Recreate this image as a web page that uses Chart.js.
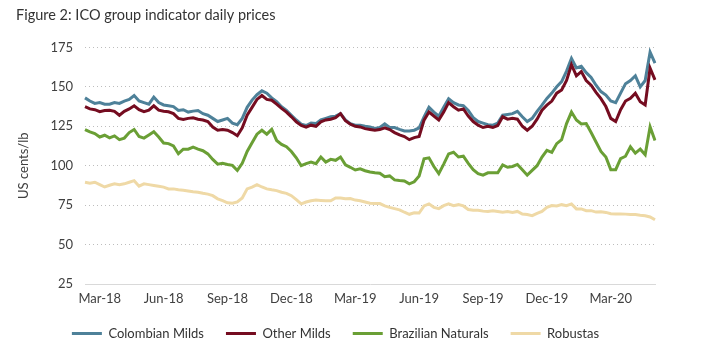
<!DOCTYPE html>
<html><head><meta charset="utf-8">
<script src="https://cdn.jsdelivr.net/npm/chart.js@4"></script>
<style>html,body{margin:0;padding:0;background:#fff}#wrap{width:720px;height:360px}</style>
</head><body><div id="wrap"><canvas id="c" width="720" height="360"></canvas></div>
<script>
const chartTitle = 'Figure 2: ICO group indicator daily prices';
const yAxisTitle = 'US cents/lb';
const seriesNames = ['Colombian Milds', 'Other Milds', 'Brazilian Naturals', 'Robustas'];
const firstWeek = [2018, 1, 8]; // weekly observations from 8 Feb 2018
const tickLabels = ['Mar-18','Jun-18','Sep-18','Dec-18','Mar-19','Jun-19','Sep-19','Dec-19','Mar-20'];
const yTicks = [25, 50, 75, 100, 125, 150, 175];

const colombianMilds = [143,141,139.5,140,139,139,140,139.5,141,142,
144.5,141,140,139,143.5,140,138.5,138,137.5,135,
135.5,134,134.6,135,133,132,130,128,129,130,
127,126,130,137,141.6,145,147.5,146,143,140.6,
137.4,135,132,129,126.3,125.5,127,126.7,129,130,
131,131.4,133,129,126.7,125.7,125.7,125,124.5,123.6,
124.2,126.5,124.2,124.2,123,122,122,122.5,124,131,
137,134,131.4,137,142.5,140,138.5,138,135,130.5,
128,127,126,125.7,127,132,132.5,133,134.5,131,
128,130,134.5,138.4,142.7,146,150,153.3,160,168,
162,163,159,156,151,147,144.8,141,140,146,
152,154,157,150,154,172,165];
const otherMilds = [137.4,136,135.5,134.2,135,135.2,134.5,132,134.5,136,
138,135.5,134.2,135.2,138,135.2,134.5,134.2,133,130,
129.3,130,130.4,129.5,129,128,124.5,122.5,123,122.5,
121,119,124,132,137,142,144.5,142,141.5,139,
136.3,134,131,127.8,125.5,124.5,125.7,125,127.8,129,
129.5,130.5,133,128.5,126.3,125,124.6,123.5,123,122.5,
122.9,124,122.9,121,119.5,118.5,116.5,117.8,118.5,128.9,
134,131.5,129,134,140,137.4,135.2,136,131.5,128,
125.7,124.2,125,124.2,125.5,131,129.5,130,129.5,125,
122.5,125,129.5,135.2,138.4,141,146,148,154,164,
157,159.7,154,151,146.5,142.5,137.5,130,128,135.5,
141,142.7,146,140.6,138.5,161.8,154.4];
const brazilianNaturals = [122.9,121.4,120.4,118.2,119.3,117.6,118.9,116.5,117.5,121,
123,118.5,117.5,119.5,121.5,118.2,114.4,114,112.5,107.6,
110.5,110.5,111.8,110.5,109.5,107.5,104,101,101.5,100.8,
100.2,97,101.5,109,114.5,120,122.5,120,123,116,
113.5,112,109,105,100,101.3,102.3,101.3,105.5,102.3,
104,103.4,105.5,100.5,99,97.3,98,96.8,96,95.5,
95.2,93,93.5,91,90.6,90.3,88.5,89.8,93.5,104.4,
105,99.5,95,101,107.5,108.5,105.5,106,101.5,97.5,
95,94,95.5,95.5,95.5,100.5,99,99.5,100.8,97.5,
94,97,100,105.5,109.7,108.5,114,116.5,126.7,134,
129,126.5,126.7,121,115,109,105.5,97.5,97.5,104.5,
106,112,108,110.5,107,124.6,116];
const robustas = [89.5,88.9,89.5,88,86.5,87.6,88.5,88,88.5,89.5,
90.5,87,88.5,88,87.5,87,86.4,85.3,85.3,84.7,
84.5,84,83.5,83.2,82.5,82,81,79,77.8,76.5,
76.2,77,79.5,85.3,86.4,88,86.5,85.3,84.7,84.2,
83.2,82.5,81,78.5,75.8,77,77.8,78.2,78,77.8,
77.8,79.5,79.5,79,79.2,78.2,77.8,77,76.2,76,
76,74.5,73.6,72.8,72,70.5,69.2,70.2,70,74.5,
75.8,73.6,72.8,74.7,75.8,74.7,75.3,74.5,72.2,71.7,
71.8,71.2,71,71.5,71,70.5,71,70.4,71,69.4,
69,68.3,69.8,71,73.6,74.7,74.5,75.3,74.7,75.8,
72.6,72.6,71.5,71.5,70.6,70.8,70.4,69.6,69.4,69.4,
69.3,69,69,68.6,68.3,67.5,65.7];

const colors = ['#4e8199', '#750c20', '#6a9f35', '#efd9a6'];
const F = 'Lato, "Open Sans", sans-serif';
const MONTHS = ['Jan','Feb','Mar','Apr','May','Jun','Jul','Aug','Sep','Oct','Nov','Dec'];

const weeks = colombianMilds.map((_, i) => new Date(Date.UTC(firstWeek[0], firstWeek[1], firstWeek[2] + 7 * i)));
function weekTick(i) {
  const d = weeks[i];
  const e = new Date(d.getTime() + 6 * 86400000);
  if (d.getUTCDate() !== 1 && e.getUTCMonth() === d.getUTCMonth()) return '';
  const m = d.getUTCDate() === 1 ? d : e;
  const s = MONTHS[m.getUTCMonth()] + '-' + String(m.getUTCFullYear()).slice(2);
  return tickLabels.includes(s) ? s : '';
}

const seriesData = [colombianMilds, otherMilds, brazilianNaturals, robustas];
const drawOrder = [1, 0, 2, 3];

new Chart(document.getElementById('c'), {
  type: 'line',
  data: {
    labels: weeks.map(d => d.toISOString().slice(0, 10)),
    datasets: seriesNames.map((n, k) => ({
      label: n, data: seriesData[k], borderColor: colors[k], backgroundColor: colors[k],
      borderWidth: 3, pointRadius: 0, tension: 0, order: drawOrder[k]
    }))
  },
  options: {
    responsive: false, animation: false,
    layout: { padding: { left: 16, right: 65, top: 0, bottom: 10 } },
    plugins: {
      title: { display: true, text: chartTitle, align: 'start', color: '#333',
        font: { family: F, size: 14.5, weight: 'normal' }, padding: { top: 7, bottom: 23 } },
      legend: { position: 'bottom',
        labels: { boxWidth: 30, boxHeight: 3, padding: 22, color: '#333', font: { family: F, size: 13 },
          sort: (a, b) => a.datasetIndex - b.datasetIndex,
          generateLabels(chart) {
            const items = Chart.defaults.plugins.legend.labels.generateLabels(chart);
            items.forEach(it => { it.lineWidth = 0; it.fillStyle = it.strokeStyle; });
            return items;
          } } },
      tooltip: { enabled: false }
    },
    scales: {
      x: {
        grid: { display: false, drawTicks: false, tickLength: 0 },
        border: { display: true, color: '#d9d9d9', width: 1 },
        ticks: { autoSkip: false, maxRotation: 0, minRotation: 0, padding: 7, color: '#404040',
          font: { family: F, size: 13 }, callback: (v, i) => weekTick(i) },
        afterFit(s) { s.height = 21; }
      },
      y: {
        min: yTicks[0], max: yTicks[yTicks.length - 1],
        afterBuildTicks(s) { s.ticks = yTicks.map(v => ({ value: v })); },
        grid: { drawTicks: false, lineWidth: 1,
          color: c => (c.tick && c.tick.value === yTicks[0]) ? 'rgba(0,0,0,0)' : '#bdbdbd' },
        border: { display: false, dash: [1, 3] },
        ticks: { padding: 12, color: '#404040', font: { family: F, size: 13 } },
        title: { display: true, text: yAxisTitle, color: '#404040', font: { family: F, size: 13 },
          padding: { top: 0, bottom: 4 } },
        afterFit(s) { s.width = 69; }
      }
    }
  }
});
</script></body></html>
